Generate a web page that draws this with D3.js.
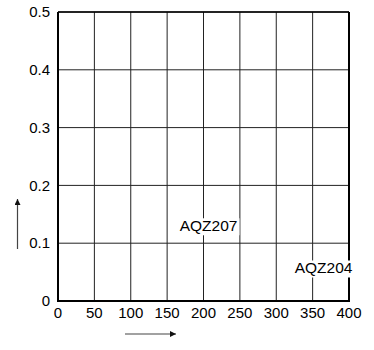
<!DOCTYPE html>
<html><head><meta charset="utf-8">
<script src="https://cdn.jsdelivr.net/npm/d3@7"></script>
<style>body{margin:0;background:#fff}svg{display:block}text{font-family:"Liberation Sans",Arial,sans-serif}</style>
</head><body>
<script>
const xTicks = [0,50,100,150,200,250,300,350,400];
const yTicks = [0,0.1,0.2,0.3,0.4,0.5];
const yTickLabels = ["0","0.1","0.2","0.3","0.4","0.5"];
const labelNames = ["AQZ207","AQZ204"];
const labelX = [207,365];
const labelY = [0.13,0.057];

const W=374,H=350;
const m={l:58,r:25,t:12,b:49};
const svg=d3.select("body").append("svg").attr("width",W).attr("height",H);
const x=d3.scaleLinear().domain([0,400]).range([m.l,W-m.r]);
const y=d3.scaleLinear().domain([0,0.5]).range([H-m.b,m.t]);
const g=svg.append("g");
g.selectAll(".vg").data(xTicks).join("line").attr("x1",d=>x(d)).attr("x2",d=>x(d))
 .attr("y1",y(0)).attr("y2",y(0.5)).attr("stroke","#222").attr("stroke-width",1);
g.selectAll(".hg").data(yTicks).join("line").attr("y1",d=>y(d)).attr("y2",d=>y(d))
 .attr("x1",x(0)).attr("x2",x(400)).attr("stroke","#222").attr("stroke-width",1);
svg.append("line").attr("x1",x(0)).attr("x2",x(400)).attr("y1",y(0.5)).attr("y2",y(0.5)).attr("stroke","#000").attr("stroke-width",1.5);
svg.append("line").attr("x1",x(400)).attr("x2",x(400)).attr("y1",y(0)).attr("y2",y(0.5)).attr("stroke","#000").attr("stroke-width",2);
svg.append("line").attr("x1",x(0)).attr("x2",x(0)).attr("y1",y(0)+1).attr("y2",y(0.5)).attr("stroke","#000").attr("stroke-width",2);
svg.append("line").attr("x1",x(0)-1).attr("x2",x(400)+1).attr("y1",y(0)).attr("y2",y(0)).attr("stroke","#000").attr("stroke-width",2);
svg.selectAll(".yl").data(yTicks).join("text").attr("x",x(0)-8).attr("y",d=>y(d)).attr("dy","0.35em")
 .attr("text-anchor","end").attr("font-size",15).attr("fill","#000").text((d,i)=>yTickLabels[i]);
svg.selectAll(".xl").data(xTicks).join("text").attr("x",d=>x(d)).attr("y",y(0)+16.5)
 .attr("text-anchor","middle").attr("font-size",15).attr("fill","#000").text(d=>d);
labelNames.forEach((n,i)=>{
  const t=svg.append("text").attr("x",x(labelX[i])).attr("y",y(labelY[i])).attr("dy","0.35em")
   .attr("text-anchor","middle").attr("font-size",15.5).attr("fill","#000").text(n);
  const b=t.node().getBBox();
  svg.insert("rect",()=>t.node()).attr("x",b.x-2).attr("y",b.y+1).attr("width",b.width+4).attr("height",b.height).attr("fill","#fff");
});
const defs=svg.append("defs");
defs.append("marker").attr("id","ah").attr("viewBox","0 0 10 10").attr("refX",10).attr("refY",5)
 .attr("markerWidth",9).attr("markerHeight",6).attr("markerUnits","userSpaceOnUse").attr("orient","auto")
 .append("path").attr("d","M0,0L10,5L0,10Z").attr("fill","#111");
svg.append("line").attr("x1",17.5).attr("x2",17.5).attr("y1",249).attr("y2",199).attr("stroke","#444").attr("stroke-width",1.2).attr("marker-end","url(#ah)");
svg.append("line").attr("x1",125).attr("x2",176).attr("y1",334).attr("y2",334).attr("stroke","#444").attr("stroke-width",1.2).attr("marker-end","url(#ah)");
</script>
</body></html>
